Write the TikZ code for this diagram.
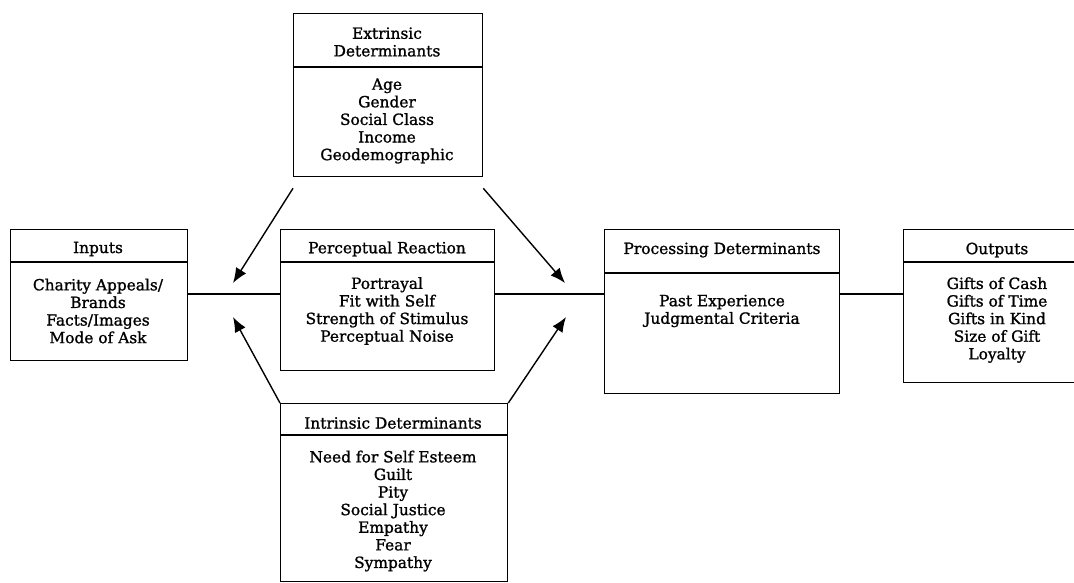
\documentclass[tikz,border=0pt]{standalone}
\usepackage{fontspec}
\setmainfont{DejaVu Serif}[FakeBold=1.2]
\usetikzlibrary{arrows.meta}
\tikzset{
  box/.style={draw, line width=1.3pt, rectangle, inner sep=0pt, anchor=north west},
  label/.style={align=center, inner sep=0pt, font=\fontsize{15.4}{17.6}\selectfont},
  link/.style={line width=1.2pt},
  push/.style={line width=1.4pt, -{Latex[length=15pt,width=12pt]}}
}
\begin{document}
\begin{tikzpicture}[x=1pt,y=-1pt]
\useasboundingbox (0,0) rectangle (1074,582);
\clip (0,0) rectangle (1074,582);

% boxes
\node[box, minimum width=189pt, minimum height=163pt] (ext) at (293,13) {};
\node[box, minimum width=177pt, minimum height=131pt] (inp) at (10,229) {};
\node[box, minimum width=214pt, minimum height=141pt] (per) at (280,229) {};
\node[box, minimum width=235pt, minimum height=164pt] (pro) at (604,229) {};
\node[box, minimum width=188pt, minimum height=153pt] (out) at (903,229) {};
\node[box, minimum width=227pt, minimum height=178pt] (intr) at (280,403) {};

% title dividers
\draw[line width=1.3pt] (ext.west |- 0,67) -- (ext.east |- 0,67);
\draw[line width=1.3pt] (inp.west |- 0,262) -- (inp.east |- 0,262);
\draw[line width=1.3pt] (per.west |- 0,262) -- (per.east |- 0,262);
\draw[line width=1.3pt] (pro.west |- 0,273) -- (pro.east |- 0,273);
\draw[line width=1.3pt] (out.west |- 0,262) -- (out.east |- 0,262);
\draw[line width=1.3pt] (intr.west |- 0,435) -- (intr.east |- 0,435);

% titles
\node[label] (extT) at (387,42) {Extrinsic\\Determinants};
\node[label] (inpT) at (98,249) {Inputs};
\node[label] (perT) at (387,249) {Perceptual Reaction};
\node[label] (proT) at (722,250) {Processing Determinants};
\node[label] (outT) at (997,250) {Outputs};
\node[label] (intrT) at (393,423) {Intrinsic Determinants};

% contents
\node[label] (extC) at (387,121) {Age\\Gender\\Social Class\\Income\\Geodemographic};
\node[label] (inpC) at (98,311) {Charity Appeals/\\Brands\\Facts/Images\\Mode of Ask};
\node[label] (perC) at (387,311) {Portrayal\\Fit with Self\\Strength of Stimulus\\Perceptual Noise};
\node[label] (proC) at (722,311) {Past Experience\\Judgmental Criteria};
\node[label] (outC) at (997,320) {Gifts of Cash\\Gifts of Time\\Gifts in Kind\\Size of Gift\\Loyalty};
\node[label] (intrC) at (393,511) {Need for Self Esteem\\Guilt\\Pity\\Social Justice\\Empathy\\Fear\\Sympathy};

% flow line between the stages
\coordinate (flow) at (0,294);
\draw[link] (inp.east |- flow) -- (per.west |- flow);
\draw[link] (per.east |- flow) -- (pro.west |- flow);
\draw[link] (pro.east |- flow) -- (out.west |- flow);

% determinant arrows
\coordinate (a1) at (233,283);
\coordinate (a2) at (565,283);
\coordinate (a3) at (233,317);
\coordinate (a4) at (566,317);
\draw[push] ([yshift=-11pt]ext.south west) -- (a1);
\draw[push] ([yshift=-11pt]ext.south east) -- (a2);
\draw[push] (intr.north west) -- (a3);
\draw[push] (intr.north east) -- (a4);
\end{tikzpicture}
\end{document}
